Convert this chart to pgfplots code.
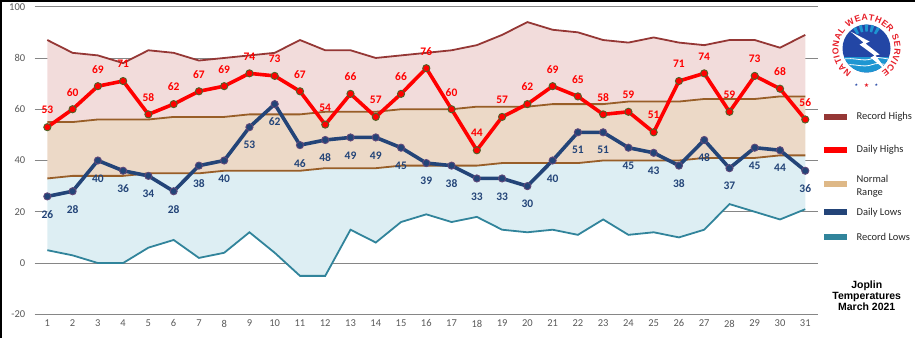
\documentclass[border=0pt]{standalone}
\usepackage{pgfplots}
\pgfplotsset{compat=1.18}
\usepackage{pgfplotstable}
\usepgfplotslibrary{fillbetween}
\usetikzlibrary{decorations.text}
\usepackage{fontspec}
\setmainfont{Carlito}
\newfontfamily\arialfont{Liberation Sans}
\newfontfamily\djv{DejaVu Sans}

\definecolor{rhline}{RGB}{149,55,53}
\definecolor{rhfill}{RGB}{242,220,219}
\definecolor{nfill}{RGB}{236,217,199}
\definecolor{nline}{RGB}{152,94,40}
\definecolor{lfill}{RGB}{221,238,243}
\definecolor{dlow}{RGB}{35,68,120}
\definecolor{rlow}{RGB}{49,132,155}
\definecolor{mkedge}{RGB}{79,98,40}
\definecolor{lowedge}{RGB}{96,73,122}
\definecolor{ticktext}{RGB}{89,89,89}
\definecolor{legpatch}{RGB}{222,184,135}
\definecolor{gridc}{RGB}{134,134,134}
\definecolor{zeroc}{RGB}{217,217,217}
\definecolor{nwsblue}{RGB}{35,70,165}
\definecolor{nwscyan}{RGB}{30,150,210}
\definecolor{nwsred}{RGB}{230,30,40}

\pgfplotstableread{
day rh dh nh nl dl rl
1 87 53 55 33 26 5
2 82 60 55 34 28 3
3 81 69 56 34 40 0
4 78 71 56 34 36 0
5 83 58 56 35 34 6
6 82 62 57 35 28 9
7 79 67 57 35 38 2
8 80 69 57 36 40 4
9 81 74 58 36 53 12
10 82 73 58 36 62 4
11 87 67 58 36 46 -5
12 83 54 59 37 48 -5
13 83 66 59 37 49 13
14 80 57 59 37 49 8
15 81 66 60 38 45 16
16 82 76 60 38 39 19
17 83 60 60 38 38 16
18 85 44 61 38 33 18
19 89 57 61 39 33 13
20 94 62 61 39 30 12
21 91 69 62 39 40 13
22 90 65 62 39 51 11
23 87 58 62 40 51 17
24 86 59 63 40 45 11
25 88 51 63 40 43 12
26 86 71 63 40 38 10
27 85 74 64 41 48 13
28 87 59 64 41 37 23
29 87 73 64 41 45 20
30 84 68 65 42 44 17
31 89 56 65 42 36 21
}\data

\begin{document}
\begin{tikzpicture}
\path (0pt,0pt) rectangle (915pt,338pt);
\draw[black, line width=2pt] (1pt,0pt) -- (1pt,337pt) -- (915pt,337pt);
\begin{axis}[
  set layers,
  at={(34.7pt,23.7pt)}, anchor=south west,
  scale only axis, width=783.2pt, height=307.6pt,
  xmin=0.5, xmax=31.5, ymin=-20, ymax=100,
  xtick={1,...,31}, ytick={-20,20,40,60,80,100},
  extra y ticks={0},
  extra y tick style={grid style={draw=zeroc, line width=0.9pt}},
  ymajorgrids, major grid style={draw=gridc, line width=0.9pt},
  axis line style={draw=none}, tick style={draw=none},
  ticklabel style={font=\fontsize{10.5}{12}\selectfont, text=ticktext},
  /pgf/number format/assume math mode=true,
  yticklabel style={xshift=-6pt},
  xticklabel style={yshift=-2pt},
  clip=false,
]
\addplot[name path=rh, draw=rhline, line width=1.8pt] table[x=day,y=rh]{\data};
\addplot[name path=nh, draw=nline, line width=1.8pt] table[x=day,y=nh]{\data};
\addplot[name path=nl, draw=nline, line width=1.8pt] table[x=day,y=nl]{\data};
\addplot[name path=rl, draw=rlow, line width=1.8pt] table[x=day,y=rl]{\data};
\addplot[rhfill, on layer=axis background] fill between[of=rh and nh];
\addplot[nfill, on layer=axis background] fill between[of=nh and nl];
\addplot[lfill, on layer=axis background] fill between[of=nl and rl];

\addplot[draw=red, line width=3.6pt, mark=*, mark size=3.6pt,
  mark options={fill=red, draw=mkedge, line width=0.9pt},
  point meta=y, nodes near coords,
  every node near coord/.append style={anchor=center, yshift=17pt, text=red,
    font=\bfseries\fontsize{11.5}{12}\selectfont}]
  table[x=day,y=dh]{\data};
\addplot[draw=dlow, line width=3.6pt, mark=*, mark size=3.6pt,
  mark options={fill=dlow, draw=lowedge, line width=0.9pt},
  point meta=y, nodes near coords,
  every node near coord/.append style={anchor=center, yshift=-18pt, text=dlow,
    font=\bfseries\fontsize{11.5}{12}\selectfont}]
  table[x=day,y=dl]{\data};
\end{axis}

\begin{scope}[x=1pt,y=1pt]
% legend
\fill[rhline] (824,218) rectangle (847,224);
\node[anchor=west, font=\fontsize{10.5}{12}\selectfont, text=black!85] at (853,221) {Record Highs};
\fill[red] (824,185) rectangle (847,191);
\node[anchor=west, font=\fontsize{10.5}{12}\selectfont, text=black!85] at (853,188) {Daily Highs};
\fill[legpatch] (824,151) rectangle (847,157);
\node[anchor=west, align=left, font=\fontsize{10.5}{13}\selectfont, text=black!85] at (853,152) {Normal\\Range};
\fill[dlow] (824,122.7) rectangle (847,128.7);
\node[anchor=west, font=\fontsize{10.5}{12}\selectfont, text=black!85] at (853,125.7) {Daily Lows};
\fill[rlow] (824,98) rectangle (847,104);
\node[anchor=west, font=\fontsize{10.5}{12}\selectfont, text=black!85] at (853,101) {Record Lows};

% title
\node[align=center, font=\arialfont\bfseries\fontsize{10.5}{11.4}\selectfont] at (866.7,42.3) {Joplin\\Temperatures\\March 2021};
\end{scope}

% NWS logo
\begin{scope}[x=1pt,y=1pt,shift={(866.5pt,289.5pt)}]
  \fill[nwsblue] (0,0) circle (24pt);
  \begin{scope}
    \clip (0,0) circle (24pt);
    \fill[nwscyan] (-25,-25) rectangle (25,-9);
    \draw[white, line width=0.8pt] (-25,-11) .. controls (-12,-8) and (-4,-14) .. (6,-10) .. controls (14,-7) and (20,-12) .. (25,-10);
    \draw[white, line width=0.8pt] (-25,-17) .. controls (-12,-14) and (-4,-20) .. (6,-16) .. controls (14,-13) and (20,-18) .. (25,-16);
    \foreach \a in {60,75,90,105,120} {\fill[nwscyan] (\a-4:17pt) -- (\a-4:25pt) -- (\a+4:25pt) -- (\a+4:17pt) -- cycle;}
  \end{scope}
  \fill[white] (-16,17) -- (3,7) -- (-1,5) -- (13,-6) -- (9,-7) -- (21,-23) -- (4,-9) -- (8,-7) -- (-7,4) -- (-3,6) -- cycle;
  \path[decorate, decoration={text along path, text align=fit to path,
    text={|\arialfont\bfseries\fontsize{8.8}{8.8}\selectfont\color{nwsred}|NATIONAL WEATHER SERVICE}}]
    (238:28pt) arc (238:-58:28pt);
  \node[text=nwsred, font=\djv\fontsize{6}{6}\selectfont] at (0,-37) {★};
  \node[text=nwsblue, font=\djv\fontsize{4}{4}\selectfont] at (-10,-37) {★};
  \node[text=nwsblue, font=\djv\fontsize{4}{4}\selectfont] at (10,-37) {★};
\end{scope}
\pgfresetboundingbox
\useasboundingbox (0pt,0pt) rectangle (915pt,338pt);
\end{tikzpicture}
\end{document}
